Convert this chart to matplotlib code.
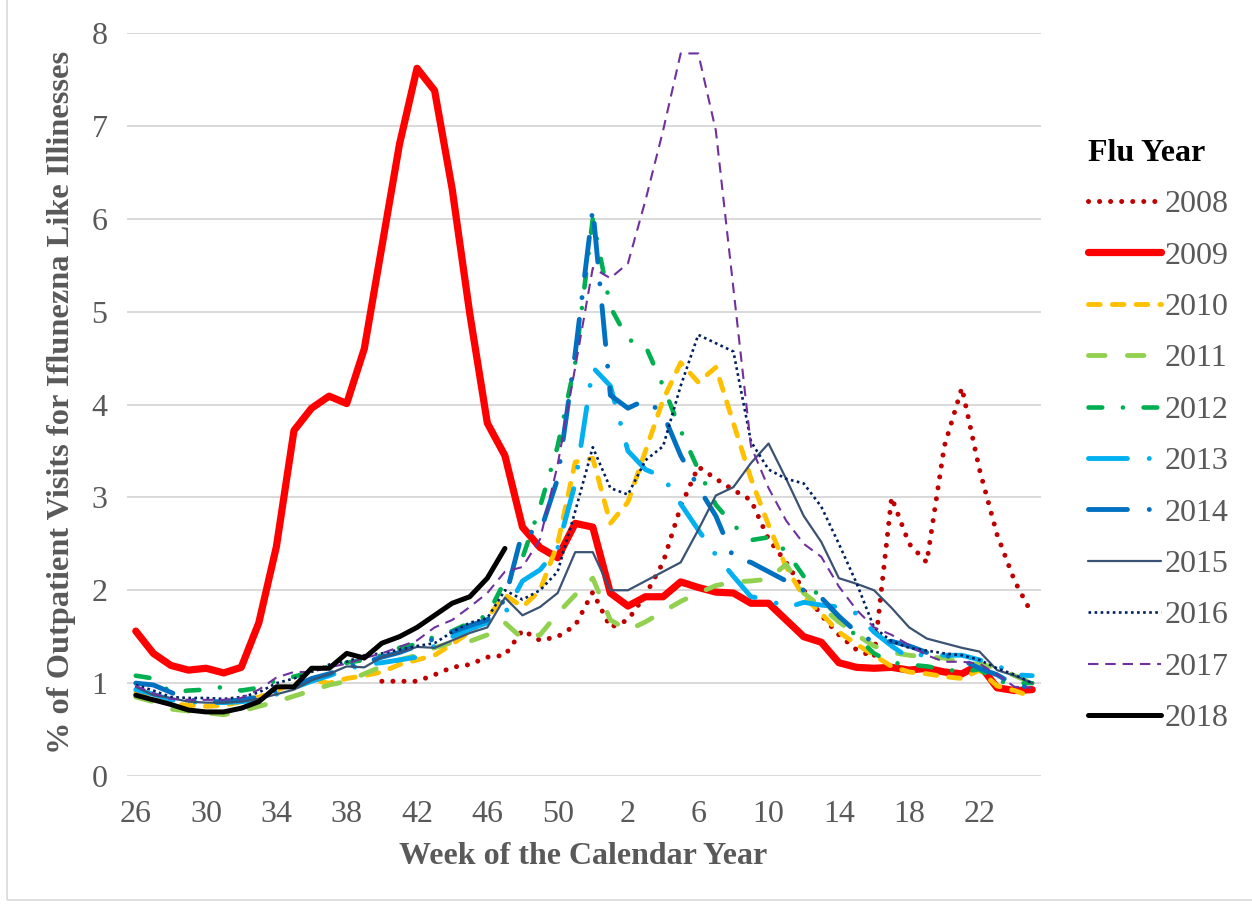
import matplotlib
matplotlib.use("Agg")
from matplotlib import pyplot as plt
from matplotlib.patches import Rectangle

plt.rcParams["font.family"] = ["Liberation Serif", "DejaVu Serif"]

weeks = [26, 27, 28, 29, 30, 31, 32, 33, 34, 35, 36, 37, 38, 39, 40, 41, 42, 43,
         44, 45, 46, 47, 48, 49, 50, 51, 52, 1, 2, 3, 4, 5, 6, 7, 8, 9, 10, 11,
         12, 13, 14, 15, 16, 17, 18, 19, 20, 21, 22, 23, 24, 25]

y2008 = [None] * 14 + [1.02, 1.02, 1.02, 1.09, 1.17, 1.2, 1.28, 1.3, 1.57, 1.46,
                       1.5, 1.62, 1.98, 1.6, 1.68, 1.95, 2.3, 2.9, 3.33, 3.2,
                       3.08, 2.97, 2.55, 2.3, 2.0, 1.73, 1.52, 1.36, 1.28, 3.0,
                       2.5, 2.3, 3.55, 4.18, 3.3, 2.6, 2.1, 1.74]
y2009 = [1.56, 1.32, 1.19, 1.14, 1.16, 1.11, 1.17, 1.65, 2.47, 3.72, 3.96, 4.09,
         4.01, 4.6, 5.7, 6.8, 7.62, 7.38, 6.32, 4.98, 3.8, 3.45, 2.68, 2.46, 2.35,
         2.72, 2.68, 1.97, 1.83, 1.93, 1.93, 2.09, 2.03, 1.98, 1.97, 1.86, 1.86,
         1.68, 1.5, 1.44, 1.22, 1.17, 1.16, 1.17, 1.14, 1.16, 1.12, 1.1, 1.2,
         0.95, 0.92, 0.93]
y2010 = [0.9, 0.85, 0.78, 0.76, 0.75, 0.76, 0.8, 0.85, 0.92, 1.0, 1.03, 1.0, 1.05,
         1.08, 1.12, 1.2, 1.25, 1.3, 1.42, 1.55, 1.7, 1.95, 1.82, 2.0, 2.5, 3.38,
         3.42, 2.72, 2.95, 3.5, 4.05, 4.45, 4.24, 4.4, 3.8, 3.2, 2.7, 2.25, 1.93,
         1.75, 1.55, 1.42, 1.3, 1.18, 1.12, 1.1, 1.07, 1.05, 1.14, 0.97, 0.92, 0.85]
y2011 = [0.85, 0.8, 0.72, 0.7, 0.68, 0.66, 0.7, 0.75, 0.8, 0.86, 0.92, 0.98, 1.02,
         1.1, 1.18, 1.25, 1.3, 1.38, 1.44, 1.45, 1.52, 1.65, 1.48, 1.52, 1.75,
         1.95, 2.13, 1.68, 1.57, 1.66, 1.77, 1.88, 1.97, 2.05, 2.09, 2.1, 2.12,
         2.28, 1.97, 1.82, 1.66, 1.52, 1.4, 1.33, 1.3, 1.28, 1.27, 1.22, 1.2, 1.17,
         1.08, 1.0]
y2012 = [1.08, 1.05, 0.9, 0.92, 0.93, 0.96, 0.92, 0.95, 1.03, 1.07, 1.12, 1.18,
         1.22, 1.25, 1.3, 1.38, 1.42, 1.5, 1.56, 1.65, 1.73, 2.1, 2.35, 2.9, 3.55,
         4.45, 6.0, 5.05, 4.7, 4.63, 4.2, 3.72, 3.3, 2.92, 2.7, 2.54, 2.57, 2.42,
         2.15, 1.9, 1.72, 1.5, 1.32, 1.22, 1.2, 1.18, 1.15, 1.12, 1.15, 1.02, 1.0,
         1.0]
y2013 = [0.93, 0.88, 0.82, 0.8, 0.79, 0.79, 0.8, 0.82, 0.88, 0.95, 1.02, 1.08,
         1.15, 1.2, 1.22, 1.25, 1.28, 1.4, 1.5, 1.58, 1.65, 1.75, 2.1, 2.22, 2.45,
         3.15, 4.4, 4.2, 3.5, 3.3, 3.22, 2.93, 2.65, 2.38, 2.15, 1.93, 1.9, 1.81,
         1.87, 1.84, 1.82, 1.75, 1.55, 1.4, 1.27, 1.32, 1.3, 1.3, 1.25, 1.19, 1.09,
         1.08]
y2014 = [1.0, 0.98, 0.9, 0.82, 0.8, 0.8, 0.82, 0.85, 0.92, 0.96, 1.05, 1.1, 1.17,
         1.22, 1.28, 1.33, 1.4, 1.48, 1.55, 1.62, 1.68, 1.9, 2.63, 2.62, 3.2, 4.55,
         6.11, 4.1, 3.96, 4.05, 3.9, 3.45, 3.11, 2.8, 2.35, 2.3, 2.2, 2.1, 2.0,
         1.92, 1.72, 1.55, 1.44, 1.45, 1.4, 1.33, 1.3, 1.25, 1.16, 1.09, 0.98, 0.95]
y2015 = [0.96, 0.87, 0.84, 0.8, 0.79, 0.79, 0.8, 0.83, 0.88, 0.93, 1.03, 1.1,
         1.18, 1.17, 1.28, 1.33, 1.39, 1.38, 1.46, 1.54, 1.6, 1.92, 1.73, 1.82,
         1.97, 2.41, 2.41, 2.0, 2.0, 2.1, 2.2, 2.3, 2.65, 3.02, 3.11, 3.37, 3.58,
         3.2, 2.8, 2.52, 2.13, 2.07, 2.0, 1.81, 1.6, 1.48, 1.43, 1.38, 1.34, 1.14,
         1.08, 1.0]
y2016 = [0.98, 0.92, 0.85, 0.84, 0.84, 0.83, 0.85, 0.9, 1.0, 1.05, 1.12, 1.2,
         1.23, 1.3, 1.32, 1.36, 1.4, 1.43, 1.55, 1.65, 1.7, 2.0, 1.9, 2.0, 2.2,
         2.85, 3.54, 3.1, 3.03, 3.4, 3.55, 4.2, 4.75, 4.66, 4.57, 3.6, 3.3, 3.2,
         3.15, 2.9, 2.5, 2.08, 1.6, 1.45, 1.38, 1.35, 1.32, 1.3, 1.25, 1.16, 1.09,
         1.0]
y2017 = [0.97, 0.89, 0.83, 0.82, 0.82, 0.82, 0.84, 0.93, 1.06, 1.12, 1.12, 1.17,
         1.21, 1.27, 1.32, 1.39, 1.46, 1.6, 1.68, 1.82, 1.97, 2.2, 2.25, 2.55,
         3.35, 4.4, 5.47, 5.36, 5.52, 6.2, 6.95, 7.78, 7.78, 6.95, 5.25, 3.55, 3.1,
         2.75, 2.5, 2.36, 2.04, 1.79, 1.6, 1.52, 1.41, 1.3, 1.23, 1.23, 1.21, 1.09,
         0.96, 0.95]
y2018 = [0.87, 0.82, 0.77, 0.71, 0.69, 0.69, 0.73, 0.8, 0.96, 0.96, 1.16, 1.16,
         1.32, 1.27, 1.43, 1.5, 1.6, 1.73, 1.86, 1.93, 2.13, 2.45] + [None] * 30

years = ["2008", "2009", "2010", "2011", "2012", "2013", "2014", "2015", "2016",
         "2017", "2018"]
series = [y2008, y2009, y2010, y2011, y2012, y2013, y2014, y2015, y2016, y2017,
          y2018]
colors = ["#C00000", "#FF0000", "#FFC000", "#92D050", "#00B050", "#00B0F0",
          "#0070C0", "#3A5273", "#002060", "#7030A0", "#000000"]
widths = [3.6, 5.2, 3.5, 3.5, 3.3, 3.5, 3.5, 1.6, 1.9, 1.5, 3.6]
styles = [(0, (0.01, 2.2)), "-", (0, (2.4, 2.5)), (0, (3.4, 4.6)),
          (0, (3.0, 4.5, 0.01, 4.5)), (0, (8, 4.5, 0.01, 4.5)),
          (0, (8, 4.5, 0.01, 4.5)), "-", (0, (1, 1.3)), (0, (5, 3.3)), "-"]
caps = ["round", "round", "round", "round", "round", "round", "round", "butt",
        "butt", "butt", "round"]

W, H = 1252, 907
fig = plt.figure(figsize=(W / 100, H / 100), dpi=100)
fig.patches.append(Rectangle((7 / W, 7 / H), 1.2, 1.2, transform=fig.transFigure,
                             fill=False, edgecolor="#D9D9D9", lw=1.2))

ax = fig.add_axes([127 / W, 1 - 776 / H, (1041 - 127) / W, (776 - 33) / H])
x = list(range(len(weeks)))

handles = []
for yr, ys, c, lw, ls, cap in zip(years, series, colors, widths, styles, caps):
    pts = [(i, v) for i, v in zip(x, ys) if v is not None]
    line, = ax.plot([p[0] for p in pts], [p[1] for p in pts], color=c, lw=lw,
                    linestyle=ls, dash_capstyle=cap, solid_capstyle="round",
                    solid_joinstyle="round", label=yr)
    handles.append(line)

ax.set_xlim(-0.5, len(weeks) - 0.5)
ax.set_ylim(0, 8)
ax.set_yticks(range(0, 9))
ax.set_xticks(x[::4])
ax.set_xticklabels([str(w) for w in weeks[::4]])
ax.grid(axis="y", color="#D9D9D9", lw=1.4)
ax.set_axisbelow(True)
for s in ax.spines.values():
    s.set_visible(False)
ax.tick_params(length=0, labelsize=23, colors="#595959")
ax.tick_params(axis="x", pad=17)
ax.tick_params(axis="y", pad=14)

fig.text(62 / W, 1 - 402 / H, "% of Outpatient Visits for Iflunezna Like Illinesses",
         rotation=90, ha="center", va="center", fontsize=23.3, fontweight="bold",
         color="#595959")
fig.text(583 / W, 1 - 857 / H, "Week of the Calendar Year", ha="center",
         va="center", fontsize=23, fontweight="bold", color="#595959")

leg = fig.legend(handles=handles, labels=years, title="Flu Year",
                 loc="upper left", bbox_to_anchor=(1075 / W, 1 - 126 / H),
                 frameon=False, fontsize=23, handlelength=2.3,
                 handletextpad=0.12, labelspacing=0.69, alignment="left",
                 borderaxespad=0)
leg.get_title().set_fontweight("bold")
leg.get_title().set_fontsize(23)
for t in leg.get_texts():
    t.set_color("#595959")

fig.savefig("out.png", dpi=100)
